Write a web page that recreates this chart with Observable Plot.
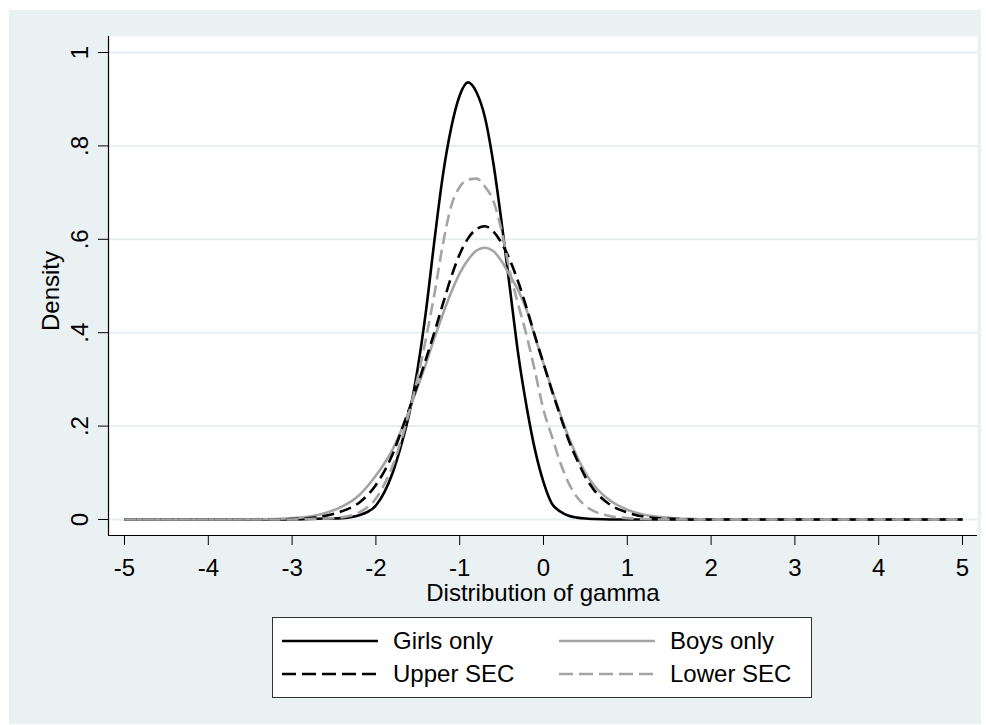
<!DOCTYPE html>
<html>
<head>
<meta charset="utf-8">
<script src="https://cdn.jsdelivr.net/npm/d3@7"></script>
<script src="https://cdn.jsdelivr.net/npm/@observablehq/plot@0.6"></script>
<style>
  html, body { margin: 0; padding: 0; background: #ffffff; }
  body { width: 986px; height: 725px; position: relative; overflow: hidden;
         font-family: "Liberation Sans", Arial, Helvetica, sans-serif; }
  #fig { position: absolute; left: 9px; top: 10px; width: 972px; height: 714px; background: #eaf1f3; }
  #chart { position: absolute; left: 0; top: 0; }
  #legend { position: absolute; left: 263px; top: 607px; width: 538px; height: 79px;
            border: 1px solid #333; background: #fff; }
  .item { position: absolute; height: 30px; display: flex; align-items: center; font-size: 24px; color: #000; white-space: nowrap; }
</style>
</head>
<body>
<div id="fig">
  <div id="chart"></div>
  <div id="legend"></div>
</div>
<script>
// ---- data ----
const xs = [-5, -4, -3.2, -3.0, -2.8, -2.6, -2.4, -2.2,
  -2.0, -1.9, -1.8, -1.7, -1.6, -1.5, -1.4, -1.3, -1.2, -1.1, -1.0, -0.9, -0.8, -0.7, -0.6, -0.5, -0.4, -0.3, -0.2, -0.1, 0.0, 0.1, 0.2, 0.3, 0.4, 0.5, 0.6,
  0.8, 1.0, 1.2, 1.4, 1.6, 1.8, 2.0, 3, 4, 5];

const girlsOnly = [0, 0, 0, 0, 0.001, 0.002, 0.003, 0.009,
  0.030, 0.058, 0.100, 0.158, 0.228, 0.325, 0.450, 0.600, 0.738, 0.840, 0.908, 0.936, 0.915, 0.862, 0.765, 0.636, 0.494, 0.352, 0.240, 0.148, 0.080, 0.034, 0.017, 0.008, 0.004, 0.002, 0.001,
  0, 0, 0, 0, 0, 0, 0, 0, 0, 0];

const boysOnly = [0, 0, 0.001, 0.003, 0.006, 0.014, 0.028, 0.052,
  0.094, 0.120, 0.150, 0.190, 0.235, 0.285, 0.335, 0.390, 0.440, 0.487, 0.527, 0.556, 0.576, 0.582, 0.575, 0.553, 0.522, 0.490, 0.448, 0.390, 0.334, 0.279, 0.226, 0.176, 0.135, 0.100, 0.074,
  0.040, 0.021, 0.010, 0.005, 0.002, 0.001, 0, 0, 0, 0];

const upperSEC = [0, 0, 0, 0.001, 0.003, 0.008, 0.018, 0.036,
  0.074, 0.103, 0.140, 0.188, 0.238, 0.290, 0.345, 0.402, 0.462, 0.520, 0.568, 0.602, 0.622, 0.628, 0.617, 0.592, 0.555, 0.508, 0.452, 0.392, 0.334, 0.276, 0.222, 0.170, 0.128, 0.091, 0.064,
  0.031, 0.015, 0.006, 0.002, 0.001, 0, 0, 0, 0, 0];

const lowerSEC = [0, 0, 0, 0, 0.001, 0.002, 0.005, 0.015,
  0.045, 0.075, 0.115, 0.168, 0.232, 0.305, 0.390, 0.485, 0.590, 0.672, 0.712, 0.728, 0.730, 0.713, 0.683, 0.618, 0.530, 0.459, 0.393, 0.316, 0.235, 0.178, 0.122, 0.078, 0.048, 0.029, 0.018,
  0.007, 0.003, 0.001, 0, 0, 0, 0, 0, 0, 0];

const seriesNames = ["Girls only", "Boys only", "Upper SEC", "Lower SEC"];
const seriesValues = [girlsOnly, boysOnly, upperSEC, lowerSEC];

const xTicks = [-5, -4, -3, -2, -1, 0, 1, 2, 3, 4, 5];
const yTicks = [0, 0.2, 0.4, 0.6, 0.8, 1];
const yTickLabels = ["0", ".2", ".4", ".6", ".8", "1"];
const xTitle = "Distribution of gamma";
const yTitle = "Density";

// ---- styles ----
const styles = {
  "Girls only": {stroke: "#000000", dash: null},
  "Boys only":  {stroke: "#a4a4a4", dash: null},
  "Upper SEC":  {stroke: "#000000", dash: "12,6"},
  "Lower SEC":  {stroke: "#a4a4a4", dash: "12,6"}
};

const xDomain = [-5.191, 5.179];
const yDomain = [-0.0343, 1.0343];

const lineMarks = seriesNames.map((name, i) => {
  const rows = xs.map((x, j) => ({x, y: seriesValues[i][j]}));
  return Plot.line(rows, {
    x: "x", y: "y", curve: "monotone-x",
    stroke: styles[name].stroke, strokeWidth: 2.6,
    strokeDasharray: styles[name].dash || undefined,
    strokeLinejoin: "round", strokeLinecap: "butt"
  });
});

const chart = Plot.plot({
  width: 972,
  height: 600,
  marginLeft: 99,
  marginRight: 4,
  marginTop: 26,
  marginBottom: 75,
  style: {fontFamily: "'Liberation Sans', Arial, Helvetica, sans-serif", fontSize: "24px", background: "transparent", color: "#000", overflow: "visible"},
  x: {domain: xDomain},
  y: {domain: yDomain},
  marks: [
    Plot.frame({fill: "#ffffff", stroke: "none"}),
    Plot.ruleY(yTicks, {stroke: "#e6eef1", strokeWidth: 2}),
    ...lineMarks,
    Plot.ruleX([xDomain[0]], {stroke: "#000", strokeWidth: 1.2}),
    Plot.ruleY([yDomain[0]], {stroke: "#000", strokeWidth: 1.2}),
    Plot.axisX({ticks: xTicks, tickSize: 10, tickPadding: 13, tickFormat: d => String(d), label: null, fontSize: 24, stroke: "#000"}),
    Plot.axisY({ticks: yTicks, tickSize: 10, tickPadding: 11, tickRotate: -90,
      tickFormat: d => yTickLabels[yTicks.indexOf(d)], label: null, fontSize: 24}),
    Plot.text([xTitle], {frameAnchor: "bottom", dy: 65, lineAnchor: "bottom", fontSize: 24, fill: "#000"}),
    Plot.text([yTitle], {frameAnchor: "left", dx: -50, dy: 5, rotate: -90, textAnchor: "middle", lineAnchor: "bottom", fontSize: 24, fill: "#000"})
  ]
});
document.getElementById("chart").appendChild(chart);

// ---- legend (2 columns, row-major like the reference) ----
const legend = document.getElementById("legend");
const colX = [{line: 9, text: 120}, {line: 286, text: 397}];
const rowY = [23, 56];
seriesNames.forEach((name, i) => {
  const col = colX[i % 2], row = rowY[Math.floor(i / 2)];
  const sw = document.createElementNS("http://www.w3.org/2000/svg", "svg");
  sw.setAttribute("width", 96); sw.setAttribute("height", 8);
  sw.style.position = "absolute"; sw.style.left = col.line + "px"; sw.style.top = (row - 4) + "px";
  const ln = document.createElementNS("http://www.w3.org/2000/svg", "line");
  ln.setAttribute("x1", 0); ln.setAttribute("x2", 96); ln.setAttribute("y1", 4); ln.setAttribute("y2", 4);
  ln.setAttribute("stroke", styles[name].stroke); ln.setAttribute("stroke-width", 2.6);
  if (styles[name].dash) ln.setAttribute("stroke-dasharray", "14,6");
  sw.appendChild(ln);
  legend.appendChild(sw);
  const t = document.createElement("div");
  t.className = "item";
  t.style.left = col.text + "px"; t.style.top = (row - 15) + "px";
  t.textContent = name;
  legend.appendChild(t);
});
</script>
</body>
</html>
